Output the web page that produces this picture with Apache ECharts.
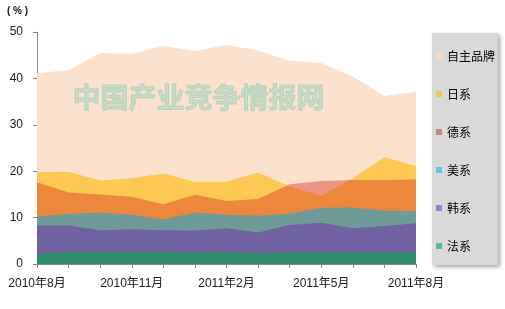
<!DOCTYPE html>
<html>
<head>
<meta charset="utf-8">
<script src="https://cdn.jsdelivr.net/npm/echarts@6/dist/echarts.min.js"></script>
<style>
html,body{margin:0;padding:0;background:#fff;}
#chart{width:505px;height:309px;}
</style>
</head>
<body>
<div id="chart"></div>
<script>
var months = ['2010年8月','2010年9月','2010年10月','2010年11月','2010年12月','2011年1月','2011年2月','2011年3月','2011年4月','2011年5月','2011年6月','2011年7月','2011年8月'];
var seriesNames = ['自主品牌','日系','德系','美系','韩系','法系'];
var ziZhu = [41.1, 41.8, 45.5, 45.3, 47.0, 45.9, 47.2, 46.0, 43.8, 43.3, 40.4, 36.2, 37.1];
var riXi  = [19.8, 19.9, 18.0, 18.5, 19.5, 17.7, 17.7, 19.7, 16.7, 14.7, 18.5, 23.0, 21.1];
var deXi  = [17.6, 15.4, 15.0, 14.5, 12.9, 14.9, 13.6, 14.0, 17.2, 17.9, 18.1, 18.1, 18.2];
var meiXi = [10.3, 10.8, 11.1, 10.6, 9.6, 11.1, 10.6, 10.4, 10.9, 12.1, 12.2, 11.5, 11.4];
var hanXi = [8.3, 8.3, 7.3, 7.5, 7.3, 7.2, 7.7, 6.8, 8.4, 8.9, 7.7, 8.2, 8.8];
var faXi  = [2.2, 2.6, 2.6, 2.65, 2.65, 2.5, 2.6, 2.3, 2.5, 2.5, 2.5, 2.5, 2.5];
var yTicks = [0, 10, 20, 30, 40, 50];

var values = [ziZhu, riXi, deXi, meiXi, hanXi, faXi];
var areaColors = ['#FCE1CD', '#FDC952', 'rgba(215,46,32,0.42)', '#6E9B97', '#7061A0', '#2F8C6E'];
var legendColors = ['#F6DBC6', '#E9C84C', '#C98888', '#62C2DC', '#9585BF', '#5CB98A'];

var chart = echarts.init(document.getElementById('chart'), null, {renderer: 'canvas'});
var series = seriesNames.map(function (n, i) {
  return {
    name: n,
    type: 'line',
    data: values[i],
    symbol: 'none',
    showSymbol: false,
    lineStyle: {width: 0, opacity: 0},
    areaStyle: {color: areaColors[i], opacity: 1},
    itemStyle: {color: legendColors[i]},
    silent: true,
    animation: false
  };
});

chart.setOption({
  animation: false,
  backgroundColor: '#ffffff',
  grid: {left: 37, right: 89, top: 32, bottom: 45},
  graphic: [
    {type: 'rect', left: 432, top: 33, z: 0,
     shape: {width: 66, height: 232},
     style: {fill: '#D9D9D9', shadowBlur: 4, shadowOffsetX: 2, shadowOffsetY: 2, shadowColor: 'rgba(0,0,0,0.35)'}},
    {type: 'text', left: 7, top: 6, z: 10,
     style: {text: '( % )', font: 'bold 10px "Liberation Sans", Arial, sans-serif', fill: '#111'}},
    {type: 'text', left: 72, top: 83, z: 10,
     style: {text: '中国产业竞争情报网', font: 'bold 28px "Noto Sans CJK SC", sans-serif',
             fill: 'rgba(150,210,185,0.5)', stroke: 'rgba(130,200,175,0.45)', lineWidth: 1}}
  ],
  legend: {
    orient: 'vertical',
    left: 436, top: 50,
    padding: 0,
    icon: 'rect',
    itemWidth: 6, itemHeight: 6,
    itemGap: 26,
    textStyle: {fontSize: 12, color: '#000', fontFamily: '"Noto Sans CJK SC", sans-serif'},
    data: seriesNames.map(function (n, i) { return {name: n, icon: 'rect', itemStyle: {color: legendColors[i]}}; })
  },
  xAxis: {
    type: 'category',
    data: months,
    boundaryGap: false,
    axisLine: {lineStyle: {color: '#868686', width: 1}},
    axisTick: {show: true, interval: 0, length: 4, lineStyle: {color: '#868686'}},
    axisLabel: {
      interval: 2, margin: 14,
      fontSize: 12, color: '#1a1a1a',
      fontFamily: '"Liberation Sans", Arial, "Noto Sans CJK SC", sans-serif'
    },
    splitLine: {show: false}
  },
  yAxis: {
    type: 'value',
    min: yTicks[0], max: yTicks[yTicks.length - 1], interval: 10,
    axisLine: {show: true, lineStyle: {color: '#868686', width: 1}},
    axisTick: {show: true, length: 4, lineStyle: {color: '#868686'}},
    axisLabel: {margin: 14, fontSize: 12, color: '#1a1a1a',
      fontFamily: '"Liberation Sans", Arial, sans-serif'},
    splitLine: {show: false}
  },
  series: series
});
</script>
</body>
</html>
